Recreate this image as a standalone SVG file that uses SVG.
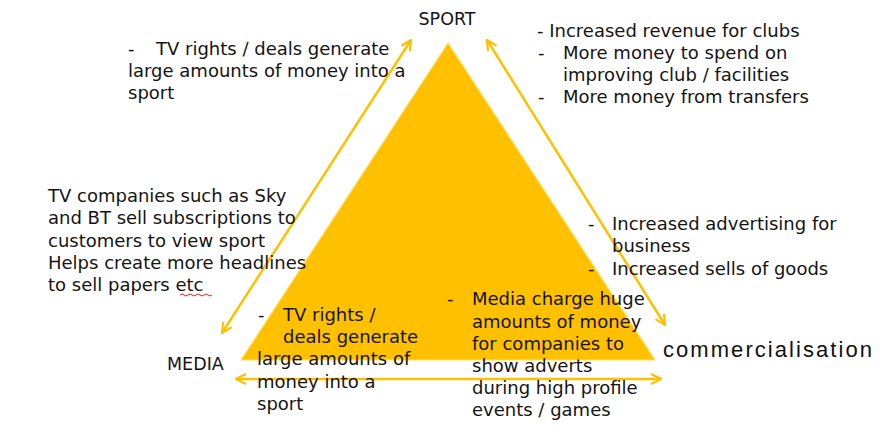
<svg xmlns="http://www.w3.org/2000/svg" width="879" height="446" viewBox="0 0 879 446">
  <defs>
    <marker id="head" viewBox="0 0 12 12" refX="11" refY="6" markerWidth="12" markerHeight="12" markerUnits="userSpaceOnUse" orient="auto-start-reverse">
      <path d="M1,1 L11,6 L1,11" fill="none" stroke="#FFC000" stroke-width="2.2" stroke-linejoin="miter"/>
    </marker>
  </defs>
  <style>
    .t { font-family: "DejaVu Sans", Verdana, sans-serif; font-size: 18px; fill: #141414; }
    .lbl { font-family: "DejaVu Sans", Verdana, sans-serif; font-size: 17.5px; fill: #141414; }
    .hand { font-family: "Liberation Sans", Arial, sans-serif; font-size: 22px; fill: #111; font-weight: normal; }
    .arr { fill: none; stroke: #FFC000; stroke-width: 2.5; marker-start: url(#head); marker-end: url(#head); }
  </style>
  <rect width="879" height="446" fill="#ffffff"/>

  <g id="triangle">
    <polygon points="448,43 241,360 655,360" fill="#FFC000" stroke="#FFE066" stroke-width="1.2"/>
  </g>

  <g id="connectors">
    <line class="arr" x1="222" y1="333" x2="411" y2="40"/>
    <line class="arr" x1="487" y1="40" x2="665" y2="325"/>
    <line class="arr" x1="236" y1="379" x2="661" y2="379"/>
  </g>

  <g id="sport">
    <text class="lbl" x="447" y="25" text-anchor="middle">SPORT</text>
  </g>
  <g id="media">
    <text class="lbl" x="167" y="370">MEDIA</text>
  </g>
  <g id="commercialisation">
    <text class="hand" x="663" y="357" textLength="209" lengthAdjust="spacing">commercialisation</text>
  </g>

  <g id="note-top-left">
    <text class="t" x="128" y="55">-</text>
    <text class="t" x="156" y="55">TV rights / deals generate</text>
    <text class="t" x="128" y="77">large amounts of money into a</text>
    <text class="t" x="128" y="99">sport</text>
  </g>

  <g id="note-top-right">
    <text class="t" x="537" y="37">- Increased revenue for clubs</text>
    <text class="t" x="538" y="59">-</text>
    <text class="t" x="563" y="59">More money to spend on</text>
    <text class="t" x="563" y="81">improving club / facilities</text>
    <text class="t" x="538" y="103">-</text>
    <text class="t" x="563" y="103">More money from transfers</text>
  </g>

  <g id="note-left">
    <text class="t" x="48" y="202">TV companies such as Sky</text>
    <text class="t" x="48" y="224">and BT sell subscriptions to</text>
    <text class="t" x="48" y="247">customers to view sport</text>
    <text class="t" x="48" y="269">Helps create more headlines</text>
    <text class="t" x="48" y="291">to sell papers etc</text>
    <path d="M180,295 q2,-2 4,0 t4,0 t4,0 t4,0 t4,0 t4,0 t4,0 t4,0" fill="none" stroke="#e02020" stroke-width="1"/>
  </g>

  <g id="note-right-middle">
    <text class="t" x="588" y="230">-</text>
    <text class="t" x="612" y="230">Increased advertising for</text>
    <text class="t" x="612" y="252">business</text>
    <text class="t" x="588" y="275">-</text>
    <text class="t" x="612" y="275">Increased sells of goods</text>
  </g>

  <g id="note-bottom-left">
    <text class="t" x="258" y="321">-</text>
    <text class="t" x="283" y="321">TV rights /</text>
    <text class="t" x="283" y="343">deals generate</text>
    <text class="t" x="257" y="365">large amounts of</text>
    <text class="t" x="257" y="388">money into a</text>
    <text class="t" x="257" y="410">sport</text>
  </g>

  <g id="note-bottom-right">
    <text class="t" x="447" y="305">-</text>
    <text class="t" x="472" y="305">Media charge huge</text>
    <text class="t" x="472" y="328">amounts of money</text>
    <text class="t" x="472" y="350">for companies to</text>
    <text class="t" x="472" y="372">show adverts</text>
    <text class="t" x="472" y="394">during high profile</text>
    <text class="t" x="472" y="416">events / games</text>
  </g>
</svg>
